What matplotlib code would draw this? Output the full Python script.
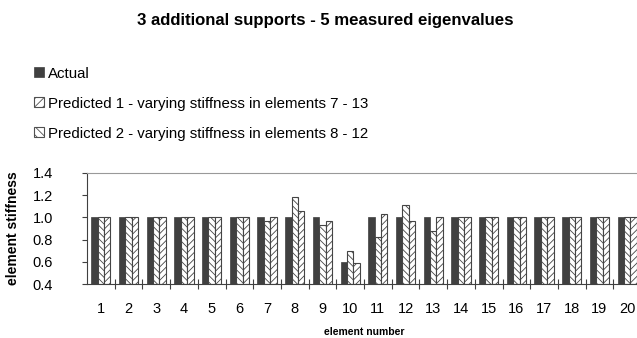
import matplotlib
matplotlib.use("Agg")
import matplotlib.pyplot as plt
import numpy as np
from matplotlib.ticker import FixedLocator, FormatStrFormatter
from matplotlib.patches import Rectangle

plt.rcParams['font.family'] = ['Liberation Sans', 'DejaVu Sans']
plt.rcParams['hatch.linewidth'] = 0.6

elements = list(range(1, 21))
actual = [1.0]*9 + [0.60] + [1.0]*10
predicted1 = [1.0, 1.0, 1.0, 1.0, 1.0, 1.0, 0.97, 1.18, 0.93, 0.70,
              0.82, 1.11, 0.88, 1.0, 1.0, 1.0, 1.0, 1.0, 1.0, 1.0]
predicted2 = [1.0, 1.0, 1.0, 1.0, 1.0, 1.0, 1.0, 1.06, 0.97, 0.59,
              1.03, 0.97, 1.0, 1.0, 1.0, 1.0, 1.0, 1.0, 1.0, 1.0]
labels = ["Actual",
          "Predicted 1 - varying stiffness in elements 7 - 13",
          "Predicted 2 - varying stiffness in elements 8 - 12"]
title = "3 additional supports - 5 measured eigenvalues"
yticks = [0.4, 0.6, 0.8, 1.0, 1.2, 1.4]

fig = plt.figure(figsize=(6.37, 3.38), dpi=100)
ax = fig.add_axes([87/637, 1-284.3/338, (641-87)/637, (284.3-172.7)/338])

x = np.arange(len(elements))
w = 0.23
base = 0.4
b0 = ax.bar(x - w, np.array(actual) - base, w, bottom=base, color='#404040',
            edgecolor='#404040', linewidth=0.5)
b1 = ax.bar(x, np.array(predicted1) - base, w, bottom=base, color='white',
            edgecolor='#454545', linewidth=0.8, hatch='\\\\\\\\\\')
b2 = ax.bar(x + w, np.array(predicted2) - base, w, bottom=base, color='white',
            edgecolor='#454545', linewidth=0.8, hatch='/////')

ax.set_xlim(-0.5, len(elements) - 0.5)
ax.set_ylim(0.4, 1.4)
ax.set_yticks(yticks)
ax.yaxis.set_major_formatter(FormatStrFormatter('%.1f'))
ax.set_xticks(x)
ax.set_xticklabels([str(e) for e in elements], fontsize=10.5)
ax.xaxis.set_minor_locator(FixedLocator(np.arange(0.5, len(elements) - 0.5, 1)))
ax.tick_params(axis='x', which='major', length=0, pad=13)
ax.tick_params(axis='x', which='minor', length=7, direction='inout', color='#404040', width=0.8)
ax.tick_params(axis='y', labelsize=10.5, length=3.6, direction='out', color='#404040',
               width=0.8, pad=21)

ax.spines['right'].set_visible(False)
ax.spines['top'].set_color('#999999')
ax.spines['left'].set_color('#404040')
ax.spines['bottom'].set_color('#404040')

ax.set_ylabel("element stiffness", fontsize=10, fontweight='bold')
ax.yaxis.set_label_coords(-0.121, 0.5)
ax.set_xlabel("element number", fontsize=7.5, fontweight='bold', va='top')
ax.xaxis.set_label_coords(0.5, -0.383)

fig.text(325/637, 1-25/338, title, ha='center', va='baseline', fontsize=12.1, fontweight='bold')

h0 = Rectangle((0, 0), 1, 1, facecolor='#404040', edgecolor='#404040', linewidth=0.5)
h1 = Rectangle((0, 0), 1, 1, facecolor='white', edgecolor='#505050', linewidth=0.8, hatch='////')
h2 = Rectangle((0, 0), 1, 1, facecolor='white', edgecolor='#505050', linewidth=0.8, hatch='\\\\\\\\')
leg = fig.legend(handles=[h0, h1, h2], labels=labels, loc='upper left',
                 bbox_to_anchor=(34/637, 1-66.5/338), frameon=False, fontsize=10.8,
                 handlelength=0.67, handleheight=0.67, handletextpad=0.27,
                 labelspacing=1.07, borderaxespad=0, borderpad=0)

fig.savefig("out.png", dpi=100)
